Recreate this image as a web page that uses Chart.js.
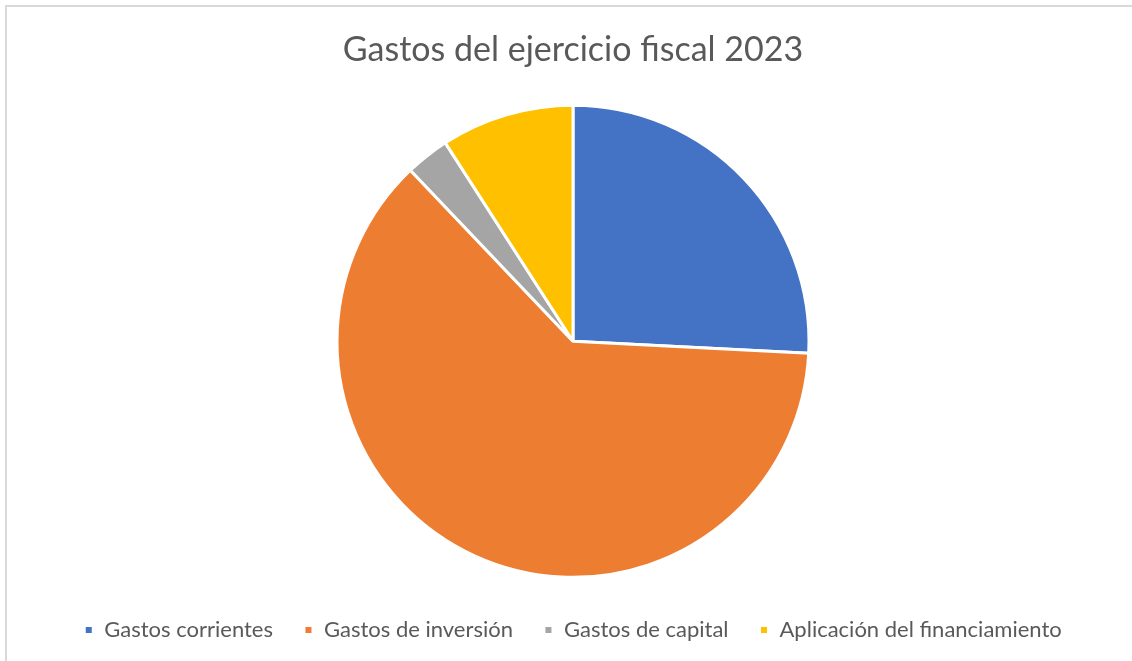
<!DOCTYPE html>
<html>
<head>
<meta charset="utf-8">
<script src="https://cdn.jsdelivr.net/npm/chart.js@4/dist/chart.umd.min.js"></script>
<style>
  html, body { margin: 0; padding: 0; background: #fff; }
  #wrap { position: absolute; left: 5px; top: 5px; width: 1127px; height: 656px;
          border-left: 2px solid #d9d9d9; border-top: 2px solid #d9d9d9; box-sizing: border-box; }
  #box { position: absolute; left: 0; top: 0; width: 1132px; height: 661px; }
</style>
</head>
<body>
<div id="wrap"></div>
<div id="box"><canvas id="graph"></canvas></div>
<script>
const categories = ["Gastos corrientes", "Gastos de inversión", "Gastos de capital", "Aplicación del financiamiento"];
const shares = [25.8, 62.1, 3.0, 9.1];
const colors = ["#4472C4", "#ED7D31", "#A5A5A5", "#FFC000"];

const chart = new Chart(document.getElementById("graph"), {
    type: 'pie',
    data: {
        labels: categories,
        datasets: [{
            data: shares,
            backgroundColor: colors,
            borderColor: '#ffffff',
            borderWidth: 3
        }]
    },
    options: {
        responsive: true,
        maintainAspectRatio: false,
        animation: false,
        layout: { padding: { left: 14, right: 0, top: 0, bottom: 10 } },
        plugins: {
            title: {
                display: true,
                text: 'Gastos del ejercicio fiscal 2023',
                color: '#595959',
                font: { family: 'Lato', size: 34, weight: 'normal' },
                padding: { top: 30, bottom: 33 }
            },
            legend: {
                position: 'bottom',
                title: { display: true, text: '', font: { size: 1 }, padding: { top: 0, bottom: 8 } },
                labels: {
                    color: '#595959',
                    font: { family: 'Lato', size: 22 },
                    boxWidth: 9,
                    boxHeight: 9,
                    padding: 31
                }
            },
            tooltip: { enabled: false }
        }
    }
});
</script>
</body>
</html>
